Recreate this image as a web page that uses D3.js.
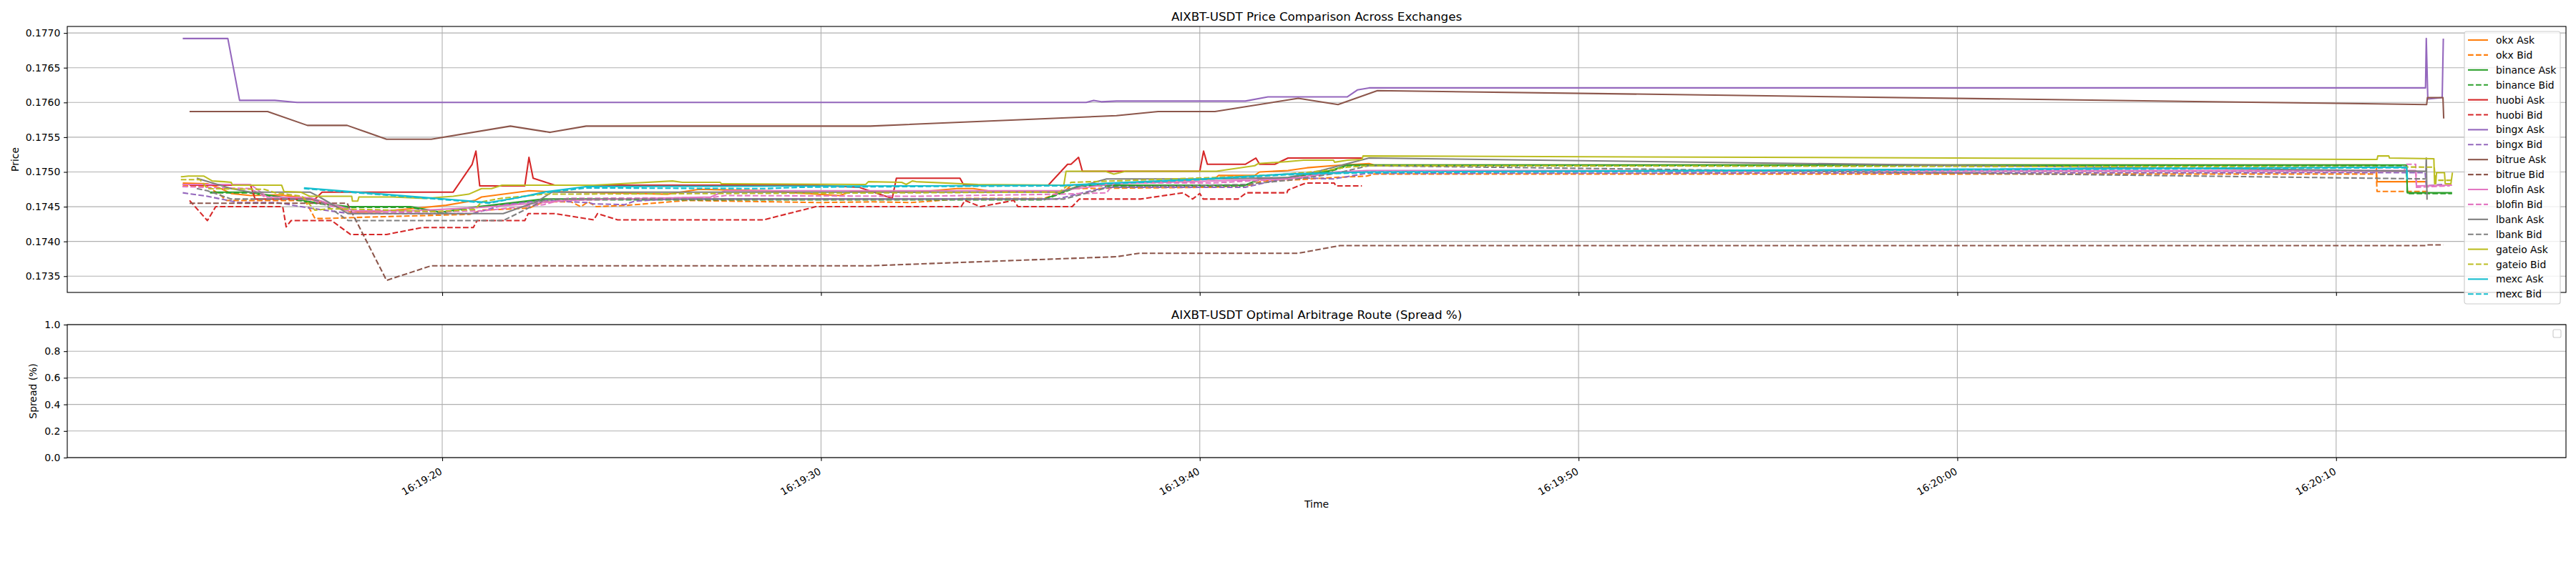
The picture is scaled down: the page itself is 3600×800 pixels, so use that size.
<!DOCTYPE html>
<html>
<head>
<meta charset="utf-8">
<script src="https://cdn.jsdelivr.net/npm/d3@7"></script>
<style>
  body { margin: 0; background: #fff; }
  svg { display: block; }
  text { font-family: "DejaVu Sans", sans-serif; fill: #000; }
</style>
</head>
<body>
<svg id="chart" width="3600" height="800"></svg>
<script>
// seconds after 16:19:00, price
var okxAsk = [[13.15,0.17484],[13.8,0.17483],[14.12,0.17477],[14.43,0.17469],[14.94,0.17466],[15.69,0.17467],[16.38,0.17463],[17.27,0.17449],[17.58,0.17442],[18.34,0.17443],[19.16,0.17447],[20.1,0.17452],[20.86,0.17459],[21.04,0.17464],[22.3,0.17473],[22.68,0.17472],[25.96,0.17468],[26.78,0.17475],[28.67,0.17473],[29.3,0.17470],[30.49,0.17466],[30.8,0.17472],[32.5,0.17471],[33.58,0.17476],[34.02,0.17476],[34.4,0.17473],[36.41,0.17471],[36.6,0.17481],[40.38,0.17490],[40.5,0.17495],[41.45,0.17495],[41.58,0.17500],[42.33,0.17502],[42.83,0.17506],[43.5,0.17509],[44.47,0.17512],[44.6,0.17510],[71.06,0.17510],[71.08,0.17486],[72.4,0.17486]];
var okxBid = [[13.15,0.17480],[13.8,0.17479],[14.12,0.17468],[14.3,0.17459],[16.38,0.17459],[16.64,0.17433],[16.89,0.17433],[18.02,0.17435],[20.73,0.17439],[21.04,0.17445],[22.3,0.17448],[22.68,0.17457],[23.4,0.17457],[23.66,0.17450],[23.85,0.17457],[24.07,0.17450],[24.89,0.17452],[26.46,0.17459],[29.92,0.17456],[31.37,0.17457],[32.38,0.17456],[33.14,0.17459],[33.77,0.17462],[35.9,0.17462],[36.54,0.17476],[40.38,0.17478],[41.32,0.17481],[41.64,0.17487],[42.33,0.17488],[43.53,0.17492],[44.41,0.17494],[44.6,0.17497],[71.06,0.17497],[71.08,0.17472],[72.43,0.17472]];
var binanceAsk = [[13.87,0.17471],[14.9,0.17471],[16.0,0.17462],[16.64,0.17456],[17.52,0.17450],[19.16,0.17450],[19.97,0.17442],[20.79,0.17449],[22.68,0.17461],[35.9,0.17461],[36.85,0.17481],[41.2,0.17481],[41.58,0.17490],[42.33,0.17492],[43.46,0.17502],[43.9,0.17510],[71.86,0.17510],[71.88,0.17470],[73.06,0.17470]];
var binanceBid = [[13.87,0.17470],[14.9,0.17470],[16.0,0.17461],[16.64,0.17455],[17.52,0.17449],[19.16,0.17449],[19.97,0.17441],[20.79,0.17448],[22.68,0.17460],[35.9,0.17460],[36.85,0.17480],[41.2,0.17480],[41.58,0.17489],[42.33,0.17491],[43.46,0.17501],[43.9,0.17509],[71.86,0.17509],[71.88,0.17469],[73.06,0.17469]];
var huobiAsk = [[13.33,0.17481],[14.94,0.17481],[15.06,0.17461],[16.64,0.17461],[16.83,0.17471],[20.29,0.17471],[20.79,0.17511],[20.89,0.17530],[20.99,0.17480],[22.18,0.17480],[22.29,0.17521],[22.4,0.17491],[22.68,0.17486],[22.97,0.17481],[29.9,0.17481],[31.0,0.17478],[31.88,0.17462],[31.99,0.17491],[33.67,0.17491],[33.77,0.17481],[36.0,0.17481],[36.51,0.17511],[36.6,0.17511],[36.8,0.17521],[36.9,0.17501],[40.0,0.17501],[40.1,0.17530],[40.2,0.17511],[41.2,0.17511],[41.48,0.17520],[41.58,0.17511],[41.98,0.17511],[42.33,0.17520],[44.28,0.17520]];
var huobiBid = [[13.33,0.17459],[13.8,0.17430],[14.02,0.17450],[15.79,0.17450],[15.88,0.17421],[16.01,0.17430],[17.08,0.17430],[17.58,0.17410],[18.53,0.17410],[19.47,0.17420],[20.82,0.17420],[20.92,0.17430],[22.18,0.17430],[22.27,0.17440],[22.97,0.17440],[24.0,0.17431],[24.1,0.17440],[24.63,0.17431],[28.48,0.17431],[29.86,0.17450],[33.7,0.17450],[33.8,0.17459],[34.21,0.17450],[35.09,0.17459],[35.2,0.17450],[36.63,0.17450],[36.82,0.17461],[38.43,0.17461],[39.56,0.17470],[39.81,0.17461],[40.0,0.17469],[40.09,0.17461],[41.01,0.17461],[41.23,0.17470],[42.3,0.17470],[42.33,0.17474],[42.8,0.17484],[43.55,0.17484],[43.59,0.17480],[44.28,0.17480]];
var bingxAsk = [[13.15,0.17692],[14.34,0.17692],[14.65,0.17603],[15.58,0.17603],[16.17,0.17600],[37.0,0.17600],[37.2,0.17603],[37.4,0.17601],[37.8,0.17602],[41.2,0.17602],[41.8,0.17608],[43.89,0.17608],[44.16,0.17618],[44.47,0.17621],[72.36,0.17621],[72.38,0.17692],[72.42,0.17605],[72.8,0.17607],[72.83,0.17692]];
var bingxBid = [[13.15,0.17470],[13.8,0.17465],[14.62,0.17456],[15.63,0.17456],[16.5,0.17448],[17.58,0.17440],[20.8,0.17440],[21.67,0.17453],[22.68,0.17459],[23.82,0.17456],[24.0,0.17454],[24.82,0.17453],[25.08,0.17458],[26.0,0.17461],[36.22,0.17461],[37.54,0.17478],[41.2,0.17478],[42.33,0.17492],[43.53,0.17490],[44.41,0.17498],[72.35,0.17499],[72.38,0.17480],[72.8,0.17482]];
var bitrueAsk = [[13.33,0.17587],[15.39,0.17587],[16.44,0.17567],[17.49,0.17567],[18.53,0.17547],[19.71,0.17547],[21.8,0.17566],[22.85,0.17557],[23.8,0.17566],[31.3,0.17566],[37.8,0.17581],[38.9,0.17587],[40.4,0.17587],[42.6,0.17606],[43.65,0.17597],[44.69,0.17617],[72.39,0.17597],[72.41,0.17607],[72.82,0.17607],[72.84,0.17577]];
var bitrueBid = [[13.33,0.17455],[17.49,0.17455],[18.53,0.17344],[19.71,0.17365],[31.3,0.17365],[37.8,0.17378],[38.4,0.17383],[42.6,0.17383],[43.7,0.17394],[72.39,0.17394],[72.41,0.17395],[72.83,0.17395]];
var blofinAsk = [[13.14,0.17482],[14.94,0.17482],[15.38,0.17464],[16.51,0.17463],[17.0,0.17455],[17.71,0.17444],[19.2,0.17444],[21.04,0.17449],[22.68,0.17456],[23.3,0.17459],[27.09,0.17464],[27.47,0.17473],[36.3,0.17473],[37.73,0.17483],[42.33,0.17490],[43.59,0.17500],[44.41,0.17502],[72.1,0.17502],[72.12,0.17480],[73.06,0.17481]];
var blofinBid = [[13.14,0.17479],[14.2,0.17477],[14.94,0.17476],[15.38,0.17462],[16.51,0.17460],[17.71,0.17441],[19.2,0.17442],[21.04,0.17444],[22.68,0.17453],[23.3,0.17462],[27.09,0.17463],[27.47,0.17466],[32.5,0.17465],[36.3,0.17468],[37.54,0.17470],[37.73,0.17484],[40.3,0.17484],[42.33,0.17490],[43.59,0.17499],[44.41,0.17501],[71.8,0.17501],[71.82,0.17511],[72.1,0.17511],[72.12,0.17478],[73.0,0.17480]];
var lbankAsk = [[13.52,0.17491],[14.43,0.17476],[14.94,0.17471],[16.51,0.17471],[16.76,0.17464],[17.52,0.17440],[21.61,0.17440],[22.49,0.17457],[22.9,0.17471],[36.3,0.17471],[37.54,0.17490],[40.4,0.17490],[42.33,0.17492],[43.2,0.17502],[44.47,0.17520],[72.37,0.17501],[72.38,0.17520],[72.4,0.17460]];
var lbankBid = [[13.52,0.17476],[13.8,0.17473],[14.43,0.17461],[16.51,0.17461],[16.76,0.17458],[17.52,0.17430],[21.61,0.17430],[22.68,0.17459],[22.9,0.17461],[36.41,0.17461],[37.6,0.17478],[41.2,0.17482],[42.33,0.17488],[43.5,0.17497],[44.47,0.17509],[72.37,0.17490]];
var gateioAsk = [[13.1,0.17493],[13.3,0.17494],[13.71,0.17494],[13.93,0.17487],[14.24,0.17486],[14.43,0.17485],[14.46,0.17481],[15.76,0.17481],[15.82,0.17472],[16.26,0.17471],[16.5,0.17465],[17.61,0.17465],[17.63,0.17458],[17.77,0.17458],[17.8,0.17464],[18.7,0.17464],[19.53,0.17462],[20.29,0.17465],[20.7,0.17468],[21.04,0.17476],[21.3,0.17476],[21.58,0.17481],[24.0,0.17481],[26.08,0.17487],[26.34,0.17485],[27.34,0.17485],[27.37,0.17483],[31.18,0.17482],[31.25,0.17486],[32.13,0.17485],[32.25,0.17482],[32.41,0.17487],[32.51,0.17486],[34.14,0.17482],[36.41,0.17481],[36.47,0.17501],[37.5,0.17501],[37.73,0.17497],[38.05,0.17501],[40.44,0.17501],[41.45,0.17509],[41.54,0.17512],[42.33,0.17515],[42.74,0.17517],[43.53,0.17517],[43.56,0.17514],[43.9,0.17517],[44.28,0.17518],[44.31,0.17523],[71.08,0.17518],[71.1,0.17523],[71.39,0.17523],[71.41,0.17520],[72.58,0.17519],[72.6,0.17483],[72.63,0.17483],[72.65,0.17499],[72.86,0.17499],[72.88,0.17483],[73.03,0.17483],[73.07,0.17499]];
var gateioBid = [[13.1,0.17489],[13.6,0.17489],[13.8,0.17476],[15.3,0.17475],[15.6,0.17470],[16.3,0.17465],[16.64,0.17445],[17.0,0.17447],[18.0,0.17446],[19.8,0.17443],[20.86,0.17446],[21.04,0.17457],[21.55,0.17462],[22.68,0.17468],[32.5,0.17470],[36.3,0.17471],[36.6,0.17485],[40.38,0.17492],[42.33,0.17497],[43.3,0.17502],[43.9,0.17507],[44.47,0.17509],[72.59,0.17507],[72.62,0.17488],[73.03,0.17488]];
var mexcAsk = [[16.35,0.17477],[21.23,0.17456],[22.0,0.17463],[22.68,0.17471],[23.82,0.17479],[32.5,0.17480],[36.41,0.17481],[40.06,0.17490],[42.33,0.17497],[44.47,0.17500],[71.86,0.17507],[71.88,0.17490]];
var mexcBid = [[16.35,0.17476],[21.23,0.17455],[22.68,0.17470],[23.82,0.17477],[28.5,0.17476],[29.5,0.17478],[32.5,0.17479],[36.41,0.17480],[40.06,0.17489],[42.33,0.17496],[44.47,0.17499],[71.86,0.17506],[71.88,0.17489]];

var exchanges = [ "okx", "binance", "huobi", "bingx", "bitrue", "blofin", "lbank", "gateio", "mexc" ];
var colors = [ "#ff7f0e", "#2ca02c", "#d62728", "#9467bd", "#8c564b", "#e377c2", "#7f7f7f", "#bcbd22", "#17becf" ];
var askData = [ okxAsk, binanceAsk, huobiAsk, bingxAsk, bitrueAsk, blofinAsk, lbankAsk, gateioAsk, mexcAsk ];
var bidData = [ okxBid, binanceBid, huobiBid, bingxBid, bitrueBid, blofinBid, lbankBid, gateioBid, mexcBid ];

var priceTicks = [ 0.1735, 0.1740, 0.1745, 0.1750, 0.1755, 0.1760, 0.1765, 0.1770 ];
var spreadTicks = [ 0.0, 0.2, 0.4, 0.6, 0.8, 1.0 ];

var base = new Date( 2025, 0, 1, 16, 19, 0 );
var toDate = s => new Date( base.getTime() + s * 1000 );

var series = [];
exchanges.forEach( ( ex, i ) => {
	series.push( { name: ex + " Ask", color: colors[ i ], dash: null, values: askData[ i ] } );
	series.push( { name: ex + " Bid", color: colors[ i ], dash: "7.7,3.33", values: bidData[ i ] } );
} );

var svg = d3.select( "#chart" );
var left = 94, right = 3586;
var top1 = 37, bot1 = 409, top2 = 454, bot2 = 640;
var lw = 2.08, thin = 1.11, tickLen = 4.86;

// matplotlib style 5% margins
var allT = series.flatMap( s => s.values.map( d => d[ 0 ] ) );
var allP = series.flatMap( s => s.values.map( d => d[ 1 ] ) );
var tExt = d3.extent( allT ), pExt = d3.extent( allP );
var tPad = ( tExt[ 1 ] - tExt[ 0 ] ) * 0.05, pPad = ( pExt[ 1 ] - pExt[ 0 ] ) * 0.05;

var x = d3.scaleTime()
	.domain( [ toDate( tExt[ 0 ] - tPad ), toDate( tExt[ 1 ] + tPad ) ] )
	.range( [ left, right ] );
var y = d3.scaleLinear()
	.domain( [ pExt[ 0 ] - pPad, pExt[ 1 ] + pPad ] )
	.range( [ bot1, top1 ] );
var y2 = d3.scaleLinear().domain( [ 0, 1 ] ).range( [ bot2, top2 ] );

var timeTicks = x.ticks( d3.timeSecond.every( 10 ) );
var fmtTime = d3.timeFormat( "%H:%M:%S" );

function panel( yScale, yTicks, yFmt, yTop, yBot ) {
	var g = svg.append( "g" );
	// grid
	g.selectAll( ".vg" ).data( timeTicks ).join( "line" )
		.attr( "x1", d => x( d ) ).attr( "x2", d => x( d ) )
		.attr( "y1", yTop ).attr( "y2", yBot )
		.attr( "stroke", "#b0b0b0" ).attr( "stroke-width", thin );
	g.selectAll( ".hg" ).data( yTicks ).join( "line" )
		.attr( "x1", left ).attr( "x2", right )
		.attr( "y1", d => yScale( d ) ).attr( "y2", d => yScale( d ) )
		.attr( "stroke", "#b0b0b0" ).attr( "stroke-width", thin );
	// axes
	var ax = g.append( "g" ).attr( "transform", "translate(" + left + ",0)" )
		.call( d3.axisLeft( yScale ).tickValues( yTicks ).tickFormat( d3.format( yFmt ) ).tickSize( tickLen ).tickSizeOuter( 0 ).tickPadding( 4.86 ) );
	ax.select( ".domain" ).remove();
	ax.selectAll( "line" ).attr( "stroke-width", thin );
	ax.selectAll( "text" ).attr( "font-size", 13.9 ).attr( "font-family", "DejaVu Sans" );
	var bx = g.append( "g" ).attr( "transform", "translate(0," + yBot + ")" )
		.call( d3.axisBottom( x ).tickValues( timeTicks ).tickFormat( "" ).tickSize( tickLen ).tickSizeOuter( 0 ) );
	bx.select( ".domain" ).remove();
	bx.selectAll( "line" ).attr( "stroke-width", thin );
	return g;
}

var g1 = panel( y, priceTicks, ".4f", top1, bot1 );
var g2 = panel( y2, spreadTicks, ".1f", top2, bot2 );

// price lines
var line = d3.line()
	.x( d => x( toDate( d[ 0 ] ) ) )
	.y( d => y( d[ 1 ] ) );

g1.selectAll( ".series" ).data( series ).join( "path" )
	.attr( "d", d => line( d.values ) )
	.attr( "fill", "none" )
	.attr( "stroke", d => d.color )
	.attr( "stroke-width", lw )
	.attr( "stroke-linejoin", "round" )
	.attr( "stroke-dasharray", d => d.dash );

// spines
[ [ top1, bot1 ], [ top2, bot2 ] ].forEach( p => {
	svg.append( "rect" )
		.attr( "x", left ).attr( "y", p[ 0 ] )
		.attr( "width", right - left ).attr( "height", p[ 1 ] - p[ 0 ] )
		.attr( "fill", "none" ).attr( "stroke", "#000" ).attr( "stroke-width", thin );
} );

// time labels, rotated
svg.append( "g" ).selectAll( "text" ).data( timeTicks ).join( "text" )
	.attr( "transform", d => "translate(" + ( x( d ) + 1 ) + "," + 662 + ") rotate(-30)" )
	.attr( "text-anchor", "end" )
	.attr( "font-size", 13.9 )
	.text( d => fmtTime( d ) );

// titles and labels
var cx = ( left + right ) / 2;
svg.append( "text" ).attr( "x", cx ).attr( "y", 29 ).attr( "text-anchor", "middle" )
	.attr( "font-size", 16.7 ).text( "AIXBT-USDT Price Comparison Across Exchanges" );
svg.append( "text" ).attr( "x", cx ).attr( "y", 446 ).attr( "text-anchor", "middle" )
	.attr( "font-size", 16.7 ).text( "AIXBT-USDT Optimal Arbitrage Route (Spread %)" );
svg.append( "text" ).attr( "x", cx ).attr( "y", 710 ).attr( "text-anchor", "middle" )
	.attr( "font-size", 13.9 ).text( "Time" );
svg.append( "text" ).attr( "transform", "translate(26," + ( ( top1 + bot1 ) / 2 ) + ") rotate(-90)" )
	.attr( "text-anchor", "middle" ).attr( "font-size", 13.9 ).text( "Price" );
svg.append( "text" ).attr( "transform", "translate(51," + ( ( top2 + bot2 ) / 2 ) + ") rotate(-90)" )
	.attr( "text-anchor", "middle" ).attr( "font-size", 13.9 ).text( "Spread (%)" );

// legend
var lg = svg.append( "g" ).attr( "transform", "translate(3444,44)" );
lg.append( "rect" ).attr( "width", 134 ).attr( "height", 381 ).attr( "rx", 3 )
	.attr( "fill", "#fff" ).attr( "fill-opacity", 0.8 )
	.attr( "stroke", "#cccccc" ).attr( "stroke-width", thin );
var items = lg.selectAll( ".item" ).data( series ).join( "g" )
	.attr( "transform", ( d, i ) => "translate(0," + ( 12 + i * 20.9 ) + ")" );
items.append( "line" ).attr( "x1", 5 ).attr( "x2", 33 )
	.attr( "stroke", d => d.color ).attr( "stroke-width", lw )
	.attr( "stroke-dasharray", d => d.dash );
items.append( "text" ).attr( "x", 44 ).attr( "y", 5 ).attr( "font-size", 13.9 ).text( d => d.name );

// empty legend of lower panel
svg.append( "rect" ).attr( "x", 3568 ).attr( "y", 461 ).attr( "width", 11 ).attr( "height", 11 ).attr( "rx", 2 )
	.attr( "fill", "#fff" ).attr( "fill-opacity", 0.8 ).attr( "stroke", "#cccccc" ).attr( "stroke-width", thin );
</script>
</body>
</html>
